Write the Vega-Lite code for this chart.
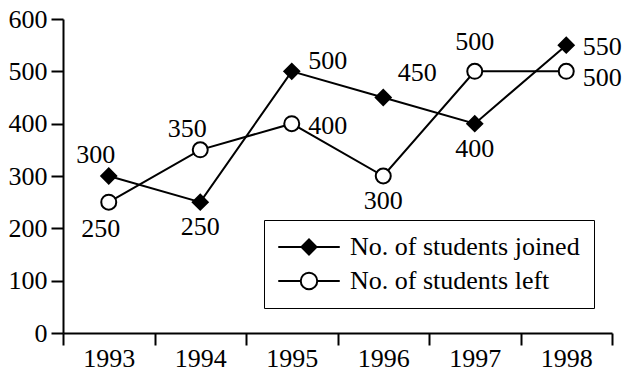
{
  "$schema": "https://vega.github.io/schema/vega-lite/v6.json",
  "autosize": {"type": "none"},
  "width": 549,
  "height": 314,
  "padding": {"left": 63, "top": 19, "right": 18, "bottom": 45},
  "background": "white",
  "config": {"view": {"stroke": null}, "font": "Liberation Serif"},
  "data": {
    "values": [
      {"year": 1993, "series": "No. of students joined", "value": 300, "pos": "upleft"},
      {"year": 1994, "series": "No. of students joined", "value": 250, "pos": "below"},
      {"year": 1995, "series": "No. of students joined", "value": 500, "pos": "rightup"},
      {"year": 1996, "series": "No. of students joined", "value": 450, "pos": "upright"},
      {"year": 1997, "series": "No. of students joined", "value": 400, "pos": "below"},
      {"year": 1998, "series": "No. of students joined", "value": 550, "pos": "right"},
      {"year": 1993, "series": "No. of students left", "value": 250, "pos": "belowleft"},
      {"year": 1994, "series": "No. of students left", "value": 350, "pos": "upleft"},
      {"year": 1995, "series": "No. of students left", "value": 400, "pos": "right"},
      {"year": 1996, "series": "No. of students left", "value": 300, "pos": "below"},
      {"year": 1997, "series": "No. of students left", "value": 500, "pos": "above"},
      {"year": 1998, "series": "No. of students left", "value": 500, "pos": "rightdown"}
    ]
  },
  "encoding": {
    "x": {
      "field": "year", "type": "quantitative",
      "scale": {"domain": [1992.5, 1998.5], "nice": false, "zero": false},
      "axis": {
        "title": null, "grid": false,
        "values": [1992.5, 1993, 1993.5, 1994, 1994.5, 1995, 1995.5, 1996, 1996.5, 1997, 1997.5, 1998, 1998.5],
        "labelExpr": "datum.value % 1 == 0 ? format(datum.value, 'd') : ''",
        "tickOpacity": {"condition": {"test": "datum.value % 1 != 0", "value": 1}, "value": 0},
        "tickSize": 12, "tickWidth": 2, "tickColor": "black",
        "domainColor": "black", "domainWidth": 2,
        "labelFont": "Liberation Serif", "labelFontSize": 26, "labelColor": "black",
        "labelPadding": 0, "labelOverlap": false, "labelFlush": false, "labelBound": false
      }
    },
    "y": {
      "field": "value", "type": "quantitative",
      "scale": {"domain": [0, 600], "nice": false},
      "axis": {
        "title": null, "grid": false,
        "values": [0, 100, 200, 300, 400, 500, 600],
        "tickSize": 12, "tickWidth": 2, "tickColor": "black",
        "domainColor": "black", "domainWidth": 2,
        "labelFont": "Liberation Serif", "labelFontSize": 26, "labelColor": "black",
        "labelPadding": 4, "labelOverlap": false, "labelFlush": false, "labelBound": false
      }
    }
  },
  "layer": [
    {
      "mark": {"type": "line", "color": "black", "strokeWidth": 2},
      "encoding": {"detail": {"field": "series"}}
    },
    {
      "transform": [{"filter": "datum.series == 'No. of students joined'"}],
      "mark": {"type": "point", "shape": "diamond", "filled": false, "stroke": "black", "strokeWidth": 2, "opacity": 1, "size": 225},
      "encoding": {
        "fill": {
          "field": "series", "type": "nominal",
          "scale": {"domain": ["No. of students joined", "No. of students left"], "range": ["black", "white"]},
          "legend": {
            "title": null, "orient": "none", "legendX": 201, "legendY": 201,
            "padding": 14, "strokeColor": "black",
            "symbolType": {"expr": "datum.value == 'No. of students joined' ? 'M-4.1,0H-1M-1,0L0,-1L1,0L0,1ZM1,0H4.1' : 'M-4.1,0H-1.1M-1.1,0A1.1,1.1,0,1,1,1.1,0A1.1,1.1,0,1,1,-1.1,0ZM1.1,0H4.1'"},
            "symbolSize": 225, "symbolStrokeWidth": 2, "symbolStrokeColor": "black",
            "symbolOffset": 18, "labelOffset": 28, "rowPadding": 8,
            "labelFont": "Liberation Serif", "labelFontSize": 26, "labelColor": "black", "labelLimit": 0,
            "encode": {
              "legend": {"strokeWidth": {"value": 2}},
              "symbols": {
                "stroke": {"value": "black"},
                "strokeWidth": {"value": 2},
                "opacity": {"value": 1}
              }
            }
          }
        }
      }
    },
    {
      "transform": [{"filter": "datum.series == 'No. of students left'"}],
      "mark": {"type": "point", "shape": "circle", "filled": false, "stroke": "black", "strokeWidth": 2, "opacity": 1, "size": 225},
      "encoding": {
        "fill": {
          "field": "series", "type": "nominal",
          "scale": {"domain": ["No. of students joined", "No. of students left"], "range": ["black", "white"]}
        }
      }
    },
    {
      "transform": [{"filter": "datum.pos == 'upleft'"}],
      "mark": {"type": "text", "dx": -13, "dy": -21, "font": "Liberation Serif", "fontSize": 26, "color": "black", "baseline": "middle", "align": "center"},
      "encoding": {"text": {"field": "value", "type": "quantitative"}}
    },
    {
      "transform": [{"filter": "datum.pos == 'below'"}],
      "mark": {"type": "text", "dx": 0, "dy": 25, "font": "Liberation Serif", "fontSize": 26, "color": "black", "baseline": "middle", "align": "center"},
      "encoding": {"text": {"field": "value", "type": "quantitative"}}
    },
    {
      "transform": [{"filter": "datum.pos == 'belowleft'"}],
      "mark": {"type": "text", "dx": -8, "dy": 27, "font": "Liberation Serif", "fontSize": 26, "color": "black", "baseline": "middle", "align": "center"},
      "encoding": {"text": {"field": "value", "type": "quantitative"}}
    },
    {
      "transform": [{"filter": "datum.pos == 'right'"}],
      "mark": {"type": "text", "dx": 36, "dy": 2, "font": "Liberation Serif", "fontSize": 26, "color": "black", "baseline": "middle", "align": "center"},
      "encoding": {"text": {"field": "value", "type": "quantitative"}}
    },
    {
      "transform": [{"filter": "datum.pos == 'rightdown'"}],
      "mark": {"type": "text", "dx": 36, "dy": 7, "font": "Liberation Serif", "fontSize": 26, "color": "black", "baseline": "middle", "align": "center"},
      "encoding": {"text": {"field": "value", "type": "quantitative"}}
    },
    {
      "transform": [{"filter": "datum.pos == 'rightup'"}],
      "mark": {"type": "text", "dx": 36, "dy": -10, "font": "Liberation Serif", "fontSize": 26, "color": "black", "baseline": "middle", "align": "center"},
      "encoding": {"text": {"field": "value", "type": "quantitative"}}
    },
    {
      "transform": [{"filter": "datum.pos == 'upright'"}],
      "mark": {"type": "text", "dx": 34, "dy": -25, "font": "Liberation Serif", "fontSize": 26, "color": "black", "baseline": "middle", "align": "center"},
      "encoding": {"text": {"field": "value", "type": "quantitative"}}
    },
    {
      "transform": [{"filter": "datum.pos == 'above'"}],
      "mark": {"type": "text", "dx": 0, "dy": -29, "font": "Liberation Serif", "fontSize": 26, "color": "black", "baseline": "middle", "align": "center"},
      "encoding": {"text": {"field": "value", "type": "quantitative"}}
    }
  ]
}
